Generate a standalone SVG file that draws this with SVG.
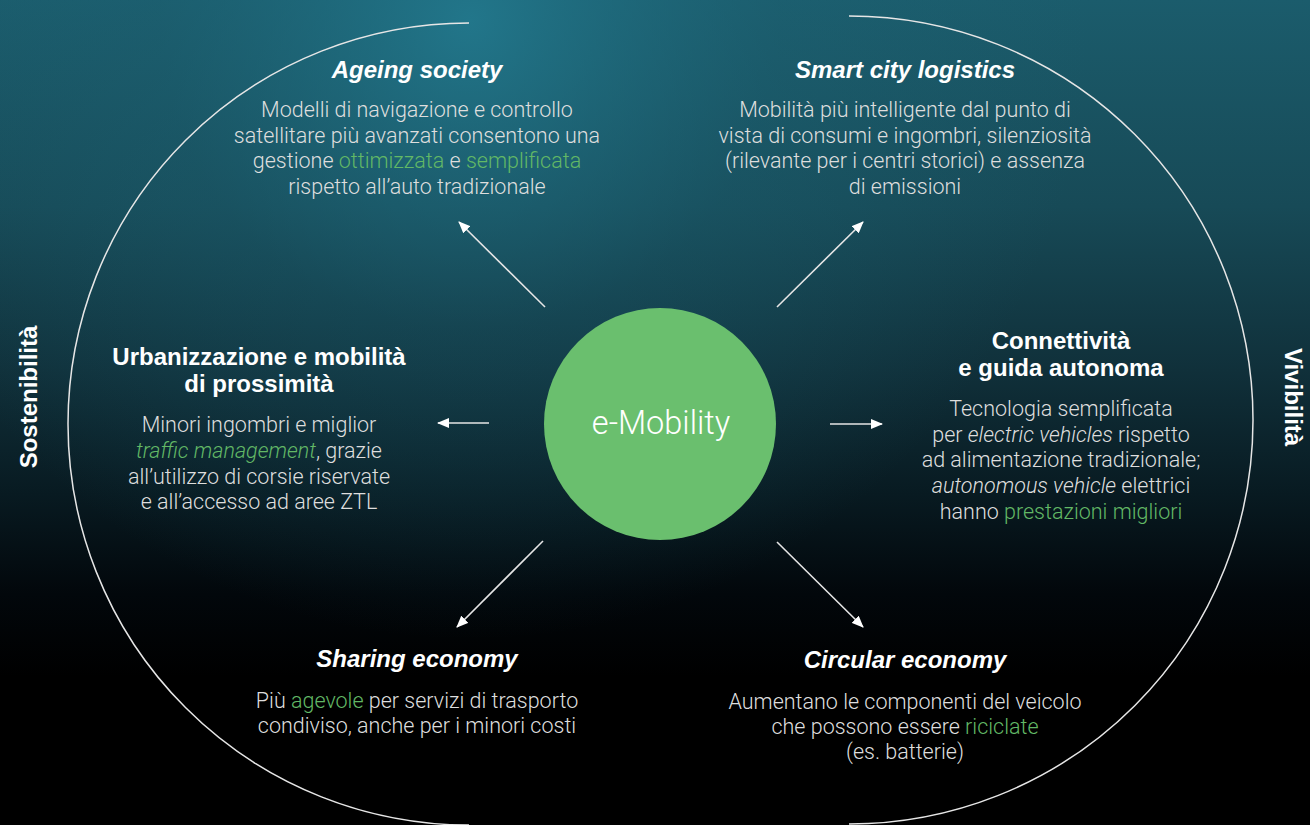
<svg xmlns="http://www.w3.org/2000/svg" width="1310" height="825" viewBox="0 0 1310 825">
<defs>
<linearGradient id="bg" x1="0" y1="0" x2="0" y2="1">
<stop offset="0" stop-color="#1b5c6c"/>
<stop offset="0.25" stop-color="#174a57"/>
<stop offset="0.45" stop-color="#10303a"/>
<stop offset="0.6" stop-color="#081a21"/>
<stop offset="0.72" stop-color="#02070b"/>
<stop offset="0.82" stop-color="#000"/>
</linearGradient>
<radialGradient id="glow" cx="470" cy="20" r="620" gradientUnits="userSpaceOnUse">
<stop offset="0" stop-color="#237b90" stop-opacity="0.85"/>
<stop offset="0.5" stop-color="#1d6476" stop-opacity="0.3"/>
<stop offset="1" stop-color="#1d6476" stop-opacity="0"/>
</radialGradient>
<marker id="ah" viewBox="0 0 12 10" refX="11" refY="5" markerWidth="12" markerHeight="10" markerUnits="userSpaceOnUse" orient="auto">
<path d="M0,0 L12,5 L0,10 Z" fill="#ffffff"/>
</marker>
<style>
.title{font-family:"Liberation Sans",Arial,sans-serif;font-weight:bold;font-size:24px;fill:#ffffff;text-anchor:middle}
.it{font-style:italic}
.body{font-family:Roboto,"Liberation Sans",sans-serif;font-weight:300;font-size:21.5px;fill:#dedede;text-anchor:middle}
.g{fill:#62b866}
.i{font-style:italic}
.side{font-family:"Liberation Sans",Arial,sans-serif;font-weight:bold;font-size:24px;fill:#ffffff;text-anchor:middle}
.arc{fill:none;stroke:#e6e6e6;stroke-width:1.5}
.arr{stroke:#e6e6e6;stroke-width:1.6;fill:none;marker-end:url(#ah)}
</style>
</defs>
<rect width="1310" height="825" fill="url(#bg)"/>
<rect width="1310" height="825" fill="url(#glow)"/>

<g id="arcs">
<path class="arc" d="M469,23 A401,401 0 0 0 469,825"/>
<path class="arc" d="M849,16 A404,404 0 0 1 849,824"/>
</g>

<g id="side-labels">
<text class="side" transform="translate(37,397) rotate(-90)">Sostenibilità</text>
<text class="side" transform="translate(1285,397) rotate(90)">Vivibilità</text>
</g>

<g id="connectors">
<line class="arr" x1="545" y1="307" x2="459" y2="222"/>
<line class="arr" x1="777" y1="307" x2="863" y2="222"/>
<line class="arr" x1="543" y1="541" x2="457" y2="627"/>
<line class="arr" x1="777" y1="542" x2="863" y2="627"/>
<line class="arr" x1="489" y1="423" x2="438" y2="423"/>
<line class="arr" x1="830" y1="424" x2="882" y2="424"/>
</g>

<g id="center">
<circle cx="660" cy="424" r="116" fill="#6abf6e"/>
<text x="661" y="434" font-family="Roboto,'Liberation Sans',sans-serif" font-weight="300" font-size="32.5" fill="#ffffff" text-anchor="middle">e-Mobility</text>
</g>

<g id="ageing">
<text class="title it" x="417" y="78">Ageing society</text>
<text class="body" x="417" y="117">Modelli di navigazione e controllo</text>
<text class="body" x="417" y="143">satellitare più avanzati consentono una</text>
<text class="body" x="417" y="168">gestione <tspan class="g">ottimizzata</tspan> e <tspan class="g">semplificata</tspan></text>
<text class="body" x="417" y="194">rispetto all’auto tradizionale</text>
</g>

<g id="smart">
<text class="title it" x="905" y="78">Smart city logistics</text>
<text class="body" x="905" y="117">Mobilità più intelligente dal punto di</text>
<text class="body" x="905" y="143">vista di consumi e ingombri, silenziosità</text>
<text class="body" x="905" y="168">(rilevante per i centri storici) e assenza</text>
<text class="body" x="905" y="194">di emissioni</text>
</g>

<g id="urban">
<text class="title" x="259" y="365">Urbanizzazione e mobilità</text>
<text class="title" x="259" y="392">di prossimità</text>
<text class="body" x="259" y="432">Minori ingombri e miglior</text>
<text class="body" x="259" y="458"><tspan class="g i">traffic management</tspan>, grazie</text>
<text class="body" x="259" y="484">all’utilizzo di corsie riservate</text>
<text class="body" x="259" y="509">e all’accesso ad aree ZTL</text>
</g>

<g id="connect">
<text class="title" x="1061" y="349">Connettività</text>
<text class="title" x="1061" y="376">e guida autonoma</text>
<text class="body" x="1061" y="416">Tecnologia semplificata</text>
<text class="body" x="1061" y="442">per <tspan class="i">electric vehicles</tspan> rispetto</text>
<text class="body" x="1061" y="467">ad alimentazione tradizionale;</text>
<text class="body" x="1061" y="493"><tspan class="i">autonomous vehicle</tspan> elettrici</text>
<text class="body" x="1061" y="519">hanno <tspan class="g">prestazioni migliori</tspan></text>
</g>

<g id="sharing">
<text class="title it" x="417" y="667">Sharing economy</text>
<text class="body" x="417" y="708">Più <tspan class="g">agevole</tspan> per servizi di trasporto</text>
<text class="body" x="417" y="733">condiviso, anche per i minori costi</text>
</g>

<g id="circular">
<text class="title it" x="905" y="668">Circular economy</text>
<text class="body" x="905" y="709">Aumentano le componenti del veicolo</text>
<text class="body" x="905" y="734">che possono essere <tspan class="g">riciclate</tspan></text>
<text class="body" x="905" y="759">(es. batterie)</text>
</g>
</svg>
